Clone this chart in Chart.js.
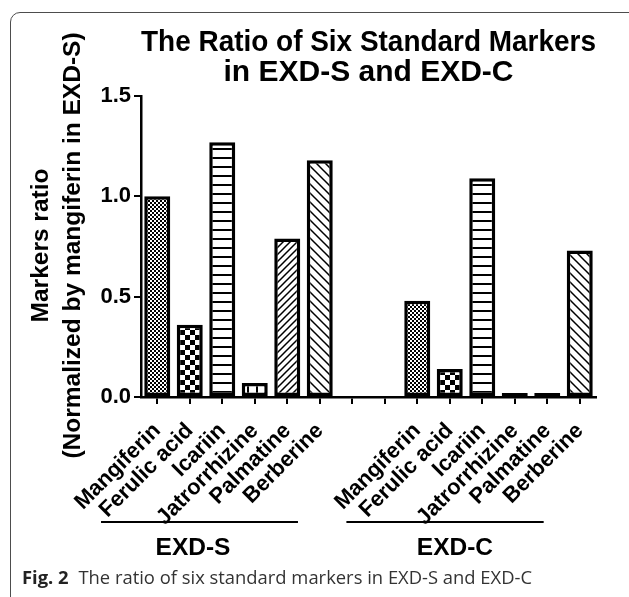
<!DOCTYPE html>
<html>
<head>
<meta charset="utf-8">
<script src="https://cdn.jsdelivr.net/npm/chart.js@4.4.0/dist/chart.umd.min.js"></script>
<style>
  html, body { margin: 0; padding: 0; background: #fff; }
  body { width: 629px; height: 597px; position: relative; overflow: hidden; }
  #frame { position: absolute; left: 10px; top: 12px; width: 660px; height: 640px; border: 1px solid #4d4d4d; border-radius: 10px; }
  #wrap { position: absolute; left: 0; top: 0; width: 629px; height: 597px; }
  #caption { position: absolute; left: 22px; top: 564px; font-family: 'Open Sans', sans-serif; font-size: 18.4px; color: #333; white-space: nowrap; }
  #caption b { color: #222; margin-right: 5px; }
</style>
</head>
<body>
<div id="frame"></div>
<div id="wrap"><canvas id="chart"></canvas></div>
<div id="caption"><b>Fig. 2</b> The ratio of six standard markers in EXD-S and EXD-C</div>
<script>
const markers = ['Mangiferin', 'Ferulic acid', 'Icariin', 'Jatrorrhizine', 'Palmatine', 'Berberine'];
const groups = ['EXD-S', 'EXD-C'];
const exdS = [1.00, 0.36, 1.27, 0.07, 0.79, 1.18];
const exdC = [0.48, 0.14, 1.09, 0.02, 0.02, 0.73];
const yTicks = [0, 0.5, 1.0, 1.5];
const titleLines = ['The Ratio of Six Standard Markers', 'in EXD-S and EXD-C'];
const yTitle = ['Markers ratio', '(Normalized by mangiferin in EXD-S)'];

const FONT = '"Liberation Sans", Arial, Helvetica, sans-serif';

// hatch fills, one per marker
function makePattern(kind) {
  const c = document.createElement('canvas');
  const g = c.getContext('2d');
  let n = 8;
  if (kind === 'fine') n = 4;
  if (kind === 'check') n = 10;
  if (kind === 'hlines' || kind === 'vlines') n = 9;
  if (kind === 'up') n = 7;
  if (kind === 'down') n = 9;
  c.width = n; c.height = n;
  g.fillStyle = '#fff';
  g.fillRect(0, 0, n, n);
  g.fillStyle = '#000';
  g.strokeStyle = '#000';
  if (kind === 'fine') {
    g.fillRect(0, 0, 2, 2);
    g.fillRect(2, 2, 2, 2);
  } else if (kind === 'check') {
    g.fillRect(0, 0, 5, 5);
    g.fillRect(5, 5, 5, 5);
  } else if (kind === 'hlines') {
    g.fillRect(0, 4, n, 2);
  } else if (kind === 'vlines') {
    g.fillRect(4, 0, 2, n);
  } else if (kind === 'up') {
    g.lineWidth = 1.5;
    g.beginPath();
    g.moveTo(-1, n + 1); g.lineTo(n + 1, -1);
    g.moveTo(-1, 1); g.lineTo(1, -1);
    g.moveTo(n - 1, n + 1); g.lineTo(n + 1, n - 1);
    g.stroke();
  } else if (kind === 'down') {
    g.lineWidth = 1.5;
    g.beginPath();
    g.moveTo(-1, -1); g.lineTo(n + 1, n + 1);
    g.moveTo(n - 1, -1); g.lineTo(n + 1, 1);
    g.moveTo(-1, n - 1); g.lineTo(1, n + 1);
    g.stroke();
  }
  return g.createPattern(c, 'repeat');
}

const kinds = ['fine', 'check', 'hlines', 'vlines', 'up', 'down'];
const fills = kinds.map(makePattern);

const labels = [...markers, '', '', ...markers];
const values = [...exdS, null, null, ...exdC];
const barFills = [...fills, '#fff', '#fff', ...fills];

// y title, group lines and group names
const extras = {
  id: 'extras',
  afterDraw(chart) {
    const { ctx, chartArea, scales: { x, y } } = chart;
    ctx.save();
    ctx.fillStyle = '#000';
    ctx.textAlign = 'center';
    ctx.textBaseline = 'middle';
    ctx.font = 'bold 24.5px ' + FONT;
    const cy = (chartArea.top + chartArea.bottom) / 2 - 1;
    yTitle.forEach((line, i) => {
      ctx.save();
      ctx.translate(y.left + 41 + i * 32, cy);
      ctx.rotate(-Math.PI / 2);
      ctx.fillText(line, 0, 0);
      ctx.restore();
    });

    const spans = [[-1.73, 4.33, 1.1], [5.82, 11.89, 9.16]];
    ctx.strokeStyle = '#000';
    ctx.lineWidth = 2;
    ctx.font = 'bold 24.5px ' + FONT;
    groups.forEach((name, i) => {
      const [a, b, c] = spans[i];
      const ly = chartArea.bottom + 125;
      ctx.beginPath();
      ctx.moveTo(x.getPixelForValue(a), ly);
      ctx.lineTo(x.getPixelForValue(b), ly);
      ctx.stroke();
      ctx.fillText(name, x.getPixelForValue(c), chartArea.bottom + 151);
    });
    ctx.restore();
  }
};

new Chart(document.getElementById('chart'), {
  type: 'bar',
  data: {
    labels: labels,
    datasets: [{
      data: values,
      backgroundColor: barFills,
      borderColor: '#000',
      borderWidth: 3.5,
      borderSkipped: false,
      barPercentage: 0.8,
      categoryPercentage: 1.0
    }]
  },
  options: {
    responsive: true,
    maintainAspectRatio: false,
    animation: false,
    layout: { padding: { left: 0, right: 33, top: 0, bottom: 0 } },
    plugins: {
      legend: { display: false },
      tooltip: { enabled: false },
      title: {
        display: true,
        fullSize: false,
        text: titleLines,
        color: '#000',
        font: { family: FONT, size: 30, weight: 'bold', lineHeight: 1.02 },
        padding: { top: 27, bottom: 7.8 }
      }
    },
    scales: {
      x: {
        grid: { display: true, drawOnChartArea: false, offset: false, color: '#000', lineWidth: 2, tickLength: 7 },
        border: { display: true, color: '#000', width: 2.5 },
        ticks: {
          autoSkip: false,
          minRotation: 45,
          maxRotation: 45,
          padding: 14,
          color: '#000',
          font: { family: FONT, size: 22, weight: 'bold' }
        },
        afterFit: s => { s.height = 200; }
      },
      y: {
        min: 0,
        max: 1.5,
        grid: { display: true, drawOnChartArea: false, color: '#000', lineWidth: 2, tickLength: 7 },
        border: { display: true, color: '#000', width: 2.5 },
        afterBuildTicks: s => { s.ticks = yTicks.map(v => ({ value: v })); },
        ticks: {
          padding: 3,
          color: '#000',
          font: { family: FONT, size: 22, weight: 'bold' },
          callback: v => Number(v).toFixed(1)
        },
        afterFit: s => { s.width = 141; }
      }
    }
  },
  plugins: [extras]
});
</script>
</body>
</html>
